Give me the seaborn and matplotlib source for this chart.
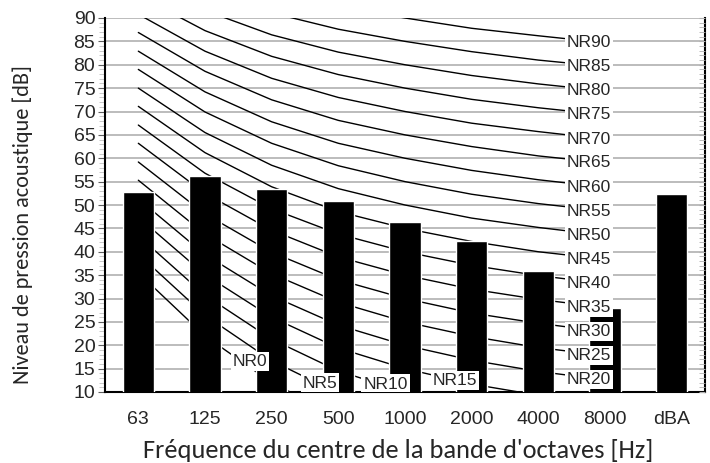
import numpy as np
import pandas as pd
import matplotlib
matplotlib.use("Agg")
import matplotlib.pyplot as plt
import seaborn as sns
from matplotlib.ticker import MultipleLocator

# measured levels per octave band
bands = ["63", "125", "250", "500", "1000", "2000", "4000", "8000", "dBA"]
levels = [52.8, 56.1, 53.5, 50.9, 46.4, 42.2, 35.9, 27.9, 52.3]

# NR curves: one list per octave band, NR0 .. NR90 in steps of 5
nr_numbers = [0, 5, 10, 15, 20, 25, 30, 35, 40, 45, 50, 55, 60, 65, 70, 75, 80, 85, 90]
nr_63 = [35.5, 39.5, 43.4, 47.4, 51.3, 55.3, 59.2, 63.2, 67.1, 71.1, 75.0, 79.0, 82.9, 86.9, 90.8, 94.8, 98.7, 102.7, 106.6]
nr_125 = [22.0, 26.4, 30.7, 35.1, 39.4, 43.8, 48.1, 52.5, 56.8, 61.2, 65.5, 69.9, 74.2, 78.6, 82.9, 87.3, 91.6, 96.0, 100.3]
nr_250 = [12.0, 16.7, 21.3, 26.0, 30.6, 35.3, 39.9, 44.6, 49.2, 53.9, 58.5, 63.2, 67.8, 72.5, 77.1, 81.8, 86.4, 91.1, 95.7]
nr_500 = [4.8, 9.7, 14.5, 19.4, 24.3, 29.2, 34.0, 38.9, 43.8, 48.6, 53.5, 58.4, 63.2, 68.1, 73.0, 77.9, 82.7, 87.6, 92.5]
nr_1000 = [0.0, 5.0, 10.0, 15.0, 20.0, 25.0, 30.0, 35.0, 40.0, 45.0, 50.0, 55.0, 60.0, 65.0, 70.0, 75.0, 80.0, 85.0, 90.0]
nr_2000 = [-3.5, 1.6, 6.6, 11.7, 16.8, 21.9, 26.9, 32.0, 37.1, 42.2, 47.2, 52.3, 57.4, 62.5, 67.5, 72.6, 77.7, 82.8, 87.8]
nr_4000 = [-6.1, -1.0, 4.2, 9.3, 14.4, 19.5, 24.7, 29.8, 34.9, 40.0, 45.2, 50.3, 55.4, 60.5, 65.7, 70.8, 75.9, 81.0, 86.2]
nr_8000 = [-8.0, -2.9, 2.3, 7.5, 12.6, 17.8, 22.9, 28.1, 33.2, 38.4, 43.5, 48.7, 53.8, 59.0, 64.1, 69.3, 74.4, 79.6, 84.7]

# where the low NR labels sit along their curve (category units) + small lift
low_label_x = [1.675, 2.725, 3.71, 4.75]
low_label_lift = [1.2, 0.3, 0.4, 0.0]

nr_table = [nr_63, nr_125, nr_250, nr_500, nr_1000, nr_2000, nr_4000, nr_8000]
rows = []
for b, col in enumerate(nr_table):
    for n, val in zip(nr_numbers, col):
        rows.append({"pos": b, "level": val, "nr": n})
curves = pd.DataFrame(rows)

sns.set_style("white")
plt.rcParams["font.family"] = ["Liberation Sans", "DejaVu Sans"]

fig = plt.figure(figsize=(7.1, 4.63), dpi=100)
ax = fig.add_axes([105 / 710, 1 - 392 / 463, 600 / 710, 374 / 463])

ax.yaxis.set_major_locator(MultipleLocator(5))
ax.yaxis.set_minor_locator(MultipleLocator(1))
ax.grid(axis="y", which="major", color="#b0b0b0", lw=1.2, zorder=0)
ax.set_axisbelow(True)

# NR curves
sns.lineplot(data=curves, x="pos", y="level", units="nr", estimator=None,
             color="black", lw=1.0, ax=ax, zorder=2, legend=False)

# bars
sns.barplot(x=bands, y=levels, color="black", width=0.47, saturation=1,
            ax=ax, zorder=3)

box = dict(boxstyle="square,pad=0.12", fc="white", ec="none")
# labels at the 8000 Hz end of the curves
for n, val in zip(nr_numbers, nr_8000):
    if n >= 20:
        ax.text(7 - 0.24, val, "NR%d" % n, ha="center", va="center",
                fontsize=12.5, bbox=box, zorder=5)
# labels for the lowest curves, sitting on the curve
for n, lx, lift in zip(nr_numbers[:4], low_label_x, low_label_lift):
    col = [c[nr_numbers.index(n)] for c in nr_table]
    ly = np.interp(lx, range(8), col) + lift
    ax.text(lx, ly, "NR%d" % n, ha="center", va="center",
            fontsize=12.5, bbox=box, zorder=5, clip_on=True)

ax.set_xlim(-0.5, 8.5)
ax.set_ylim(10, 90)

for s in ["left", "bottom", "right"]:
    ax.spines[s].set_color("black")
    ax.spines[s].set_linewidth(1.5)
ax.spines["top"].set_visible(False)

ax.tick_params(axis="x", length=0, labelsize=14, pad=14)
ax.tick_params(axis="y", which="major", direction="out", length=5,
               color="#606060", labelsize=14, pad=2)
ax.tick_params(axis="y", which="minor", direction="out", length=4,
               color="#c0c0c0", left=True)

# right side ticks
ax2 = ax.twinx()
ax2.set_ylim(10, 90)
ax2.yaxis.set_major_locator(MultipleLocator(5))
ax2.yaxis.set_minor_locator(MultipleLocator(1))
ax2.tick_params(axis="y", which="both", direction="in", length=4,
                color="#b0b0b0", labelright=False)
for s in ax2.spines.values():
    s.set_visible(False)

ax.set_xlabel("Fréquence du centre de la bande d'octaves [Hz]",
              family="Carlito", fontsize=19)
ax.set_ylabel("Niveau de pression acoustique [dB]",
              family="Carlito", fontsize=16)
ax.xaxis.set_label_coords(0.488, -0.126)
ax.yaxis.set_label_coords(-0.12, 0.449)

fig.savefig("out.png", dpi=100)
